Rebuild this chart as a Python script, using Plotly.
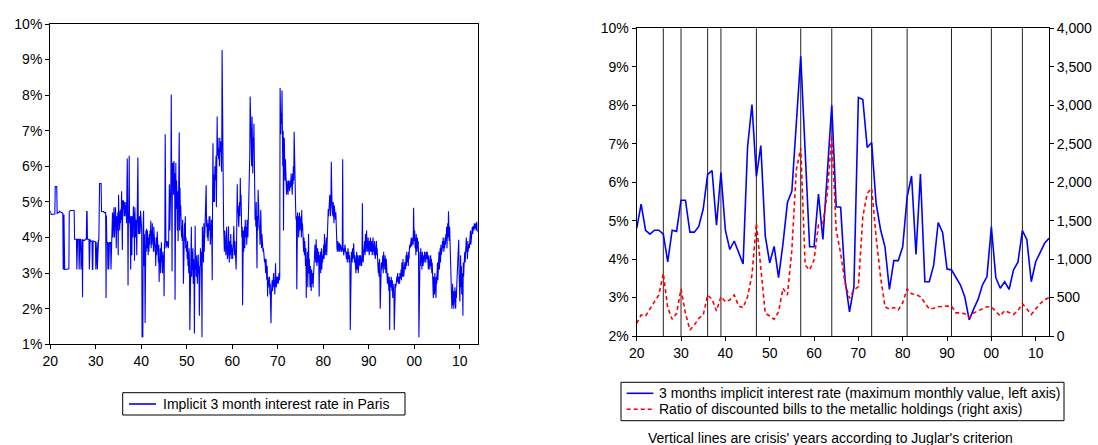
import plotly.graph_objects as go

# ---------------- data ----------------
start_year = 1820
# Monthly implicit 3-month interest rate in Paris (%), one row per year 1820..1913
monthly_rates = [
    [4.76,4.65,4.65,4.65,4.65,4.65,4.65,4.65,4.65,4.65,4.66,4.66],  # 1820
    [4.66,5.43,5.43,5.43,5.43,5.43,4.68,4.68,4.68,4.68,4.70,4.72],
    [4.74,4.74,4.72,4.70,4.70,4.70,4.70,4.70,4.68,4.68,3.12,3.12],
    [4.65,3.10,3.10,3.10,3.10,3.10,3.10,3.10,3.10,3.10,3.10,3.10],
    [3.12,3.12,4.72,4.76,4.76,4.76,4.76,4.76,4.76,4.76,4.76,4.76],
    [4.76,4.76,4.76,4.76,3.95,3.95,3.95,3.95,3.95,3.95,3.10,3.95],  # 1825
    [3.95,3.95,3.95,3.95,3.10,3.95,3.95,3.95,3.95,3.10,3.95,3.95],
    [3.95,2.32,3.95,3.92,3.92,3.92,3.92,3.92,3.95,3.95,3.95,3.95],
    [4.73,4.73,3.95,3.95,3.95,3.95,3.95,3.10,3.95,3.95,3.90,3.90],
    [3.90,3.90,3.90,3.10,3.10,3.90,3.90,3.90,3.90,3.88,3.88,3.88],
    [3.10,3.88,3.88,3.88,3.10,3.88,3.92,3.92,3.92,5.52,5.52,5.52],  # 1830
    [5.52,5.52,5.52,4.73,4.73,4.73,4.73,4.73,4.73,4.73,4.70,4.70],
    [4.70,4.70,4.70,2.30,4.62,3.86,3.86,3.86,3.10,3.86,3.10,3.86],
    [3.86,3.86,3.86,3.86,3.10,3.86,3.86,4.10,4.70,4.00,4.72,4.60],
    [4.85,4.00,4.72,4.40,4.85,4.30,3.70,4.60,4.50,4.20,4.70,3.50],
    [5.20,4.50,4.60,4.20,4.75,4.40,4.80,4.50,5.30,4.40,3.65,5.05],  # 1835
    [4.80,5.05,4.70,4.60,5.00,4.60,4.90,4.70,5.00,4.40,4.90,6.22],
    [4.80,2.65,4.70,4.50,6.30,4.40,4.60,4.20,3.10,4.60,4.50,3.50],
    [4.60,4.20,4.00,4.88,4.40,4.70,3.35,4.85,4.60,4.00,4.50,4.30],
    [3.50,4.30,4.60,6.25,4.40,4.10,4.30,4.60,4.10,4.20,4.75,4.30],
    [4.40,4.20,1.20,1.22,1.20,4.35,4.75,3.20,4.10,3.50,1.60,3.30],  # 1840
    [4.20,3.60,4.25,3.70,4.20,3.80,3.50,4.00,3.60,4.10,3.80,4.20],
    [4.00,4.47,3.70,4.20,3.80,4.40,3.90,4.10,3.60,4.30,3.70,4.00],
    [3.60,3.80,3.20,4.00,3.50,3.70,4.17,3.40,3.60,3.30,3.80,2.75],
    [3.40,3.20,3.70,3.00,3.60,3.87,3.30,3.50,3.00,3.60,3.30,3.50],
    [2.35,3.80,3.90,6.90,3.80,3.70,3.90,3.80,3.75,3.85,3.90,3.70],  # 1845
    [3.80,4.60,5.50,4.20,5.00,4.50,5.60,8.02,5.20,3.05,6.10,5.50],
    [6.10,5.20,6.15,5.50,5.80,2.25,5.10,6.10,4.80,5.60,5.20,4.20],
    [5.30,3.90,5.50,5.00,6.95,4.20,5.40,4.60,4.90,4.40,4.00,4.30],
    [3.90,4.50,3.95,2.70,4.20,3.80,4.40,3.90,4.60,3.70,4.00,3.60],
    [3.80,3.40,3.90,3.20,3.60,3.00,3.70,3.30,1.40,3.50,3.10,3.60],  # 1850
    [4.30,2.90,3.60,3.10,3.70,2.70,3.40,3.00,1.30,3.50,4.33,3.10],
    [3.30,2.90,3.50,3.10,2.70,3.30,3.52,3.00,3.20,1.80,2.80,3.40],
    [3.70,3.20,3.60,3.00,1.20,4.30,3.50,3.90,3.30,4.40,3.60,4.00],
    [4.30,4.80,5.00,5.47,4.30,4.50,4.00,4.40,3.90,4.20,4.40,4.60],
    [4.20,4.60,3.80,4.40,4.20,4.50,4.00,2.80,5.20,6.65,5.00,5.77],  # 1855
    [5.70,5.00,6.00,5.60,5.80,6.30,4.85,5.60,7.40,6.30,6.80,6.40],
    [6.20,6.50,6.00,6.80,6.40,6.50,6.70,6.00,5.85,9.27,7.00,6.80],
    [4.80,4.30,4.00,3.60,4.20,3.80,4.10,3.50,3.90,4.30,3.70,3.40],
    [3.50,3.80,4.32,3.60,3.30,3.90,3.50,3.70,4.10,3.40,3.80,3.60],
    [3.70,3.40,3.90,3.60,4.32,3.80,3.50,3.90,3.60,3.80,3.10,3.70],  # 1860
    [5.20,5.50,4.70,4.90,4.50,4.30,4.70,5.00,4.60,5.67,4.90,5.20],
    [4.60,4.00,4.30,2.10,3.80,4.20,3.60,4.00,4.30,3.70,4.50,4.10],
    [4.00,4.30,3.80,4.50,4.20,4.00,4.40,4.60,5.00,5.30,6.30,7.96],
    [7.30,6.50,7.00,6.00,7.40,6.20,5.80,6.80,6.50,7.20,5.50,4.70],
    [4.50,4.70,4.30,5.00,4.40,3.14,4.60,4.20,5.34,4.50,4.80,4.30],  # 1865
    [4.30,3.80,4.20,4.77,4.00,3.70,4.10,3.80,3.90,3.60,3.70,3.40],
    [3.50,3.30,3.40,3.20,3.00,3.40,3.10,2.80,3.20,2.34,2.90,2.70],
    [2.80,2.60,2.90,2.40,2.70,2.06,1.59,2.40,2.60,2.80,2.50,2.70],
    [2.80,3.00,2.60,2.81,2.40,2.90,3.28,2.70,2.60,2.90,2.80,2.70],
    [2.90,2.70,2.80,3.00,2.80,2.90,8.20,7.00,6.90,7.50,7.20,8.13],  # 1870
    [7.60,6.00,7.00,4.20,6.50,6.80,6.00,5.60,6.20,5.40,5.80,5.20],
    [5.60,5.30,5.50,5.20,5.60,5.40,5.50,5.30,5.60,5.40,5.50,5.80],
    [5.40,5.60,5.20,5.80,5.50,6.00,5.60,6.97,6.00,5.50,5.80,4.80],
    [4.50,4.60,2.55,4.40,4.70,4.20,4.60,4.00,4.40,4.70,4.20,4.50],
    [4.30,4.60,4.00,4.77,4.20,4.40,3.80,4.10,3.60,4.00,3.50,3.90],  # 1875
    [3.60,3.20,3.70,2.30,3.40,3.00,3.60,2.60,3.30,4.10,3.00,3.40],
    [3.00,2.60,3.20,2.80,2.50,3.10,2.90,2.70,3.00,2.60,2.90,3.10],
    [3.40,3.20,3.80,3.50,3.30,3.95,3.60,3.20,3.50,3.70,3.30,3.60],
    [3.30,2.34,3.50,3.20,3.60,3.00,3.40,3.70,3.10,3.50,3.30,3.60],
    [3.50,3.80,3.40,4.10,3.70,3.50,3.90,3.60,4.00,3.50,3.80,4.30],  # 1880
    [4.50,4.80,4.60,5.00,4.70,5.20,4.90,4.60,5.00,6.13,5.40,4.90],
    [4.80,4.60,5.00,4.70,4.40,4.90,4.60,4.80,4.50,4.70,3.80,3.90],
    [3.70,3.60,3.90,3.80,3.70,3.60,3.85,3.70,3.60,3.80,3.70,3.75],
    [3.70,3.60,3.80,6.20,3.70,3.60,3.50,3.70,3.60,3.80,3.50,3.60],
    [3.50,3.40,3.60,3.30,3.50,3.70,3.40,3.60,3.30,3.50,3.40,1.40],  # 1885
    [3.40,3.30,3.60,3.50,3.30,3.70,3.40,3.50,3.84,3.40,3.30,3.50],
    [3.20,3.50,3.00,3.40,3.60,3.10,3.30,3.50,3.00,3.40,3.20,3.50],
    [3.30,3.20,3.50,3.30,3.40,3.20,3.50,4.96,3.40,3.30,3.50,3.60],
    [3.70,3.90,3.50,4.10,3.80,3.60,4.20,3.70,3.90,3.60,4.00,3.80],
    [3.70,3.50,3.90,3.60,4.00,3.80,3.60,3.90,3.70,3.50,3.80,4.00],  # 1890
    [3.60,3.80,3.50,3.90,3.70,3.40,3.80,3.60,3.90,3.50,3.70,3.40],
    [3.20,3.00,3.30,2.90,3.40,3.10,2.00,3.20,3.00,3.30,3.10,3.40],
    [3.30,3.50,3.00,3.60,3.20,3.40,3.10,3.50,3.30,3.00,3.40,3.20],
    [2.90,2.70,3.00,2.60,2.80,2.50,2.90,1.40,2.70,2.80,2.60,2.90],
    [2.70,2.50,2.80,2.30,2.60,2.40,2.70,1.40,2.60,2.50,2.70,2.60],  # 1895
    [2.80,2.70,2.90,2.75,3.00,2.80,2.70,2.90,2.80,2.70,3.00,2.85],
    [2.90,3.10,2.80,3.30,3.00,2.90,3.40,3.10,2.90,3.20,3.00,3.30],
    [3.30,3.10,3.50,3.20,3.60,3.40,3.30,3.50,3.20,3.60,3.40,3.70],
    [3.80,3.70,3.90,3.80,4.00,3.75,3.90,3.85,4.00,3.80,4.84,4.20],
    [3.90,4.20,3.70,4.00,3.50,4.10,3.80,3.60,4.00,3.70,3.90,3.60],  # 1900
    [1.20,3.40,3.00,3.60,3.20,3.70,3.30,3.50,3.10,3.60,3.40,3.20],
    [3.40,3.50,3.30,3.60,3.40,3.50,3.30,3.60,3.50,3.40,3.60,3.30],
    [3.30,3.10,3.50,3.20,3.40,3.10,3.30,3.50,3.20,3.40,3.00,3.30],
    [3.00,2.60,2.30,2.90,2.70,2.40,3.00,2.60,2.80,2.30,2.90,2.70],
    [3.00,3.30,2.80,3.50,3.20,3.60,3.10,3.40,3.70,3.30,3.80,3.50],  # 1905
    [3.70,3.60,3.90,3.70,4.00,3.80,3.60,3.90,3.70,4.00,3.80,4.10],
    [3.90,4.30,3.70,4.10,4.40,4.00,4.74,4.20,3.90,4.30,3.80,3.50],
    [2.80,2.40,2.60,2.00,2.30,2.70,2.10,2.50,2.00,2.40,2.20,2.60],
    [2.20,2.00,2.50,2.30,2.70,3.00,2.80,3.20,3.50,3.94,3.00,2.50],
    [2.20,2.80,3.50,2.60,3.20,2.40,3.00,2.70,1.80,3.30,2.90,3.20],  # 1910
    [3.40,3.60,3.30,3.80,3.50,4.00,3.60,3.70,3.40,3.90,3.60,3.80],
    [3.80,3.70,4.00,3.90,4.20,3.80,4.10,4.00,4.20,4.30,4.10,4.30],
    [4.30,4.20,4.40,4.30,4.25,4.35,4.40,4.20,4.30,4.45,4.20,4.15],  # 1913
]

years = list(range(1820, 1914))
# Maximum monthly value of the implicit rate (%), annual
annual_max_rate = [
    4.80, 5.43, 4.75, 4.65, 4.75, 4.75, 4.65, 3.93, 4.75, 4.72,
    5.53, 5.53, 4.70, 4.70, 4.85, 5.30, 6.20, 6.30, 4.88, 6.25,
    4.75, 4.25, 4.47, 4.17, 3.87, 6.90, 8.02, 6.15, 6.95, 4.60,
    3.90, 4.33, 3.52, 4.40, 5.47, 5.77, 7.50, 9.27, 6.80, 4.32,
    4.32, 5.69, 4.51, 6.30, 8.00, 5.36, 5.35, 3.46, 2.63, 3.28,
    8.20, 8.15, 6.90, 7.03, 5.45, 4.77, 4.32, 3.21, 3.96, 3.96,
    4.32, 5.62, 6.16, 4.12, 6.21, 3.41, 3.41, 3.85, 4.95, 4.69,
    3.74, 3.72, 3.54, 3.33, 3.02, 2.42, 2.70, 2.95, 3.33, 3.54,
    4.84, 3.52, 3.24, 3.41, 3.21, 3.72, 3.92, 4.74, 4.51, 3.41,
    3.93, 4.19, 4.41, 4.54,
]
# Ratio of discounted bills to the metallic holdings (right axis)
bills_ratio = [
    165, 273, 260, 360, 446, 533, 815, 368, 217, 295,
    611, 295, 78, 143, 230, 273, 533, 477, 325, 511,
    446, 468, 533, 390, 368, 511, 793, 1465, 880, 295,
    260, 217, 316, 620, 533, 1118, 2159, 2441, 923, 858,
    988, 1443, 1465, 1855, 2613, 1378, 1075, 685, 490, 598,
    641, 1551, 1855, 1920, 1291, 772, 380, 350, 370, 340,
    430, 610, 550, 540, 510, 430, 350, 360, 380, 385,
    385, 390, 300, 300, 290, 240, 300, 330, 350, 380,
    380, 320, 260, 330, 300, 280, 330, 420, 350, 280,
    350, 420, 470, 500,
]
crisis_years = [1826, 1830, 1836, 1839, 1847, 1857, 1864, 1873, 1881, 1891, 1900, 1907]

decade_ticks = [1820, 1830, 1840, 1850, 1860, 1870, 1880, 1890, 1900, 1910]
decade_labels = ["20", "30", "40", "50", "60", "70", "80", "90", "00", "10"]
left_pct_ticks = [1, 2, 3, 4, 5, 6, 7, 8, 9, 10]
right_pct_ticks = [2, 3, 4, 5, 6, 7, 8, 9, 10]
ratio_ticks = [0, 500, 1000, 1500, 2000, 2500, 3000, 3500, 4000]

left_name = "Implicit 3 month interest rate in Paris"
blue_name = "3 months implicit interest rate (maximum monthly value, left axis)"
red_name = "Ratio of discounted bills to the metallic holdings (right axis)"
caption = "Vertical lines are crisis' years according to Juglar's criterion"

# ---------------- build ----------------
month_x, month_y = [], []
for yi, row in enumerate(monthly_rates):
    for mi, v in enumerate(row):
        month_x.append(start_year + yi + mi / 12.0)
        month_y.append(v)

FONT = "Liberation Sans, Arial, sans-serif"
FS = 14
W, H = 1098, 445
BLUE = "#0000FF"
RED = "#FF0000"

def fx(px):
    return px / W

def fy(py):
    return (H - py) / H

fig = go.Figure()
fig.add_trace(go.Scatter(
    x=month_x, y=month_y, mode="lines",
    line=dict(color=BLUE, width=1.1), name=left_name,
    xaxis="x", yaxis="y",
))
fig.add_trace(go.Scatter(
    x=years, y=annual_max_rate, mode="lines",
    line=dict(color=BLUE, width=1.6), name=blue_name,
    xaxis="x2", yaxis="y2",
))
fig.add_trace(go.Scatter(
    x=years, y=bills_ratio, mode="lines",
    line=dict(color=RED, width=1.6, dash="4px,3px"), name=red_name,
    xaxis="x2", yaxis="y3",
))

shapes = []
for cy in crisis_years:
    shapes.append(dict(type="line", xref="x2", yref="y2 domain",
                       x0=cy, x1=cy, y0=0, y1=1,
                       line=dict(color="#222222", width=1), layer="below"))

# legend boxes (drawn by hand to match the compact original)
def legend_box(x0, y0, x1, y1):
    shapes.append(dict(type="rect", xref="paper", yref="paper",
                       x0=fx(x0), x1=fx(x1), y0=fy(y1), y1=fy(y0),
                       line=dict(color="black", width=1), fillcolor="white"))

def legend_line(x0, x1, y, color, dash="solid"):
    shapes.append(dict(type="line", xref="paper", yref="paper",
                       x0=fx(x0), x1=fx(x1), y0=fy(y), y1=fy(y),
                       line=dict(color=color, width=1.6, dash=dash)))

annotations = []
def legend_text(x, y, text):
    annotations.append(dict(text=text, x=fx(x), y=fy(y), xref="paper", yref="paper",
                            xanchor="left", yanchor="middle", showarrow=False,
                            font=dict(family=FONT, size=FS, color="black")))

legend_box(122.7, 392.7, 405, 415)
legend_line(129, 156, 404, BLUE)
legend_text(161, 404, left_name)

legend_box(621, 382.3, 1064, 420.7)
legend_line(626.7, 653.3, 393.3, BLUE)
legend_text(657, 393.3, blue_name)
legend_line(626.7, 653.3, 409.3, RED, dash="4px,3px")
legend_text(657, 409.3, red_name)

annotations.append(dict(text=caption, x=fx(830), y=fy(438), xref="paper", yref="paper",
                        xanchor="center", yanchor="middle", showarrow=False,
                        font=dict(family=FONT, size=FS, color="black")))

axis_common = dict(showline=True, linecolor="black", linewidth=1.3, mirror=True,
                   ticks="outside", ticklen=4, tickcolor="black",
                   showgrid=False, zeroline=False, automargin=False,
                   tickfont=dict(family=FONT, size=FS, color="black"))

fig.update_layout(
    width=W, height=H,
    margin=dict(l=0, r=0, t=0, b=0, pad=0),
    paper_bgcolor="white", plot_bgcolor="white",
    font=dict(family=FONT, size=FS, color="black"),
    showlegend=False,
    xaxis=dict(domain=[fx(50.3), fx(477.7)], range=[1820, 1913.92],
               tickvals=decade_ticks, ticktext=decade_labels, anchor="y", **axis_common),
    yaxis=dict(domain=[fy(344.3), fy(24)], range=[1, 10],
               tickvals=left_pct_ticks, ticktext=[f"{v}%" for v in left_pct_ticks],
               anchor="x", **axis_common),
    xaxis2=dict(domain=[fx(636.7), fx(1049)], range=[1820, 1913],
                tickvals=decade_ticks, ticktext=decade_labels, anchor="y2", **axis_common),
    yaxis2=dict(domain=[fy(336), fy(28.3)], range=[2, 10],
                tickvals=right_pct_ticks, ticktext=[f"{v}%" for v in right_pct_ticks],
                anchor="x2", **axis_common),
    yaxis3=dict(range=[0, 4000], overlaying="y2", side="right", anchor="x2",
                tickvals=ratio_ticks, ticktext=[f"{v:,}" for v in ratio_ticks],
                showline=False, ticks="outside", ticklen=4, tickcolor="black",
                showgrid=False, zeroline=False, automargin=False,
                tickfont=dict(family=FONT, size=FS, color="black")),
    shapes=shapes,
    annotations=annotations,
)

fig.write_html("out.html")
